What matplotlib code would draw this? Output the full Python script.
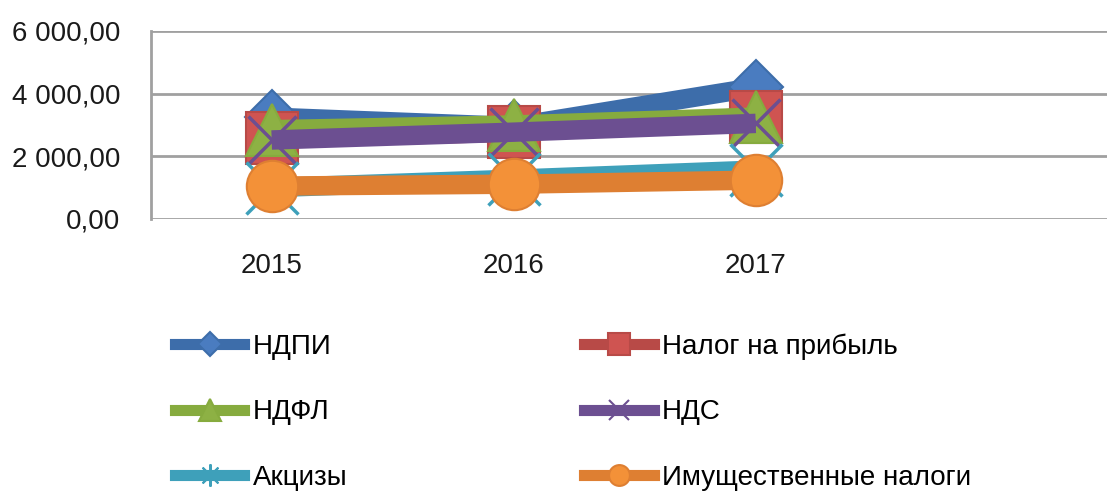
import numpy as np
import matplotlib.pyplot as plt
from matplotlib.lines import Line2D
from matplotlib.ticker import FuncFormatter

plt.rcParams['font.family'] = ['Liberation Sans', 'DejaVu Sans']

years = ['2015', '2016', '2017']
series = ['НДПИ', 'Налог на прибыль', 'НДФЛ', 'НДС', 'Акцизы', 'Имущественные налоги']

ndpi = [3250, 2950, 4200]
profit_tax = [2580, 2770, 3260]
ndfl = [2850, 3000, 3250]
nds = [2520, 2770, 3050]
excise = [1000, 1270, 1560]
property_tax = [1050, 1110, 1240]

values = [ndpi, profit_tax, ndfl, nds, excise, property_tax]

line_colors = ['#3D6DAA', '#B84A47', '#86AB3E', '#6C4F91', '#3EA0BA', '#DE7F32']
face_colors = ['#4A7CC0', '#CF5451', '#8DB144', '#6C4F91', '#3EA0BA', '#F39138']
markers = ['D', 's', '^', 'x', 'x', 'o']
leg_markers = ['D', 's', '^', 'x', (8, 2, 0), 'o']
msizes = [27, 37, 37, 34, 38, 37]
leg_sizes = [12, 16, 16, 14, 16, 15]

fig = plt.figure(figsize=(11.07, 4.91), dpi=100)
ax = fig.add_axes([0.1361, 0.554, 0.8745, 0.383])

x = np.arange(len(years)) + 0.5
for vals, lc, fc, m, ms in zip(values, line_colors, face_colors, markers, msizes):
    ax.plot(x, vals, color=lc, lw=14, solid_capstyle='butt',
            marker=m, markersize=ms, markerfacecolor=fc, markeredgecolor=lc,
            markeredgewidth=2.5 if m == 'x' else 1.5)

ax.set_xlim(0, 4)
ax.set_ylim(0, 6000)
ax.set_yticks([0, 2000, 4000, 6000])
ax.yaxis.set_major_formatter(FuncFormatter(lambda v, p: f'{v:,.2f}'.replace(',', ' ').replace('.', ',')))
ax.set_xticks(x)
ax.set_xticklabels(years)
ax.tick_params(length=0, labelsize=20, colors='#1a1a1a')
ax.tick_params(axis='y', pad=22)
ax.tick_params(axis='x', pad=24.5)
ax.grid(axis='y', color='#A0A0A0', lw=2)
ax.set_axisbelow(True)
for s in ['top', 'right', 'bottom']:
    ax.spines[s].set_visible(False)
ax.spines['left'].set_color('#A0A0A0')
ax.spines['left'].set_linewidth(2)

# legend, filled column by column
handles = []
for lc, fc, m, ls in zip(line_colors, face_colors, leg_markers, leg_sizes):
    handles.append(Line2D([], [], color=lc, lw=8, marker=m, markersize=ls,
                          markerfacecolor=fc, markeredgecolor=lc, markeredgewidth=1.5))
order = [0, 2, 4, 1, 3, 5]
fig.legend([handles[i] for i in order], [series[i] for i in order],
           loc='upper left', bbox_to_anchor=(0.1355, 0.372), ncol=2,
           frameon=False, fontsize=20, handlelength=2.5, handletextpad=0.3,
           labelspacing=1.42, columnspacing=8.52)

fig.savefig('out.png', dpi=100)
